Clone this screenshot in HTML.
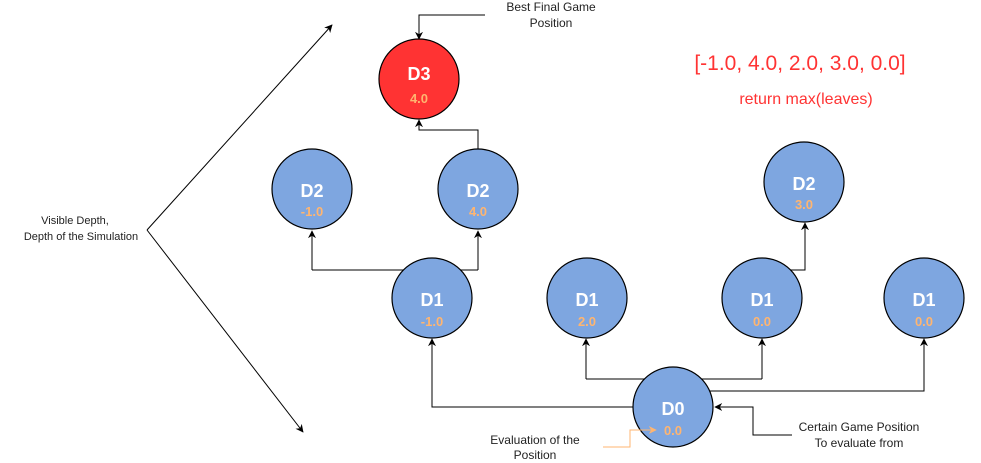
<!DOCTYPE html>
<html><head><style>body{margin:0;background:#fff}svg{display:block}</style></head><body>
<svg width="981" height="463" viewBox="0 0 981 463" xmlns="http://www.w3.org/2000/svg" font-family="Liberation Sans, Arial, sans-serif">
<defs>
<marker id="a" viewBox="0 0 10 10" refX="9" refY="5" markerWidth="8" markerHeight="8" orient="auto"><path d="M0,0L10,5L0,10L3,5z" fill="#000"/></marker>
<marker id="o" viewBox="0 0 10 10" refX="9" refY="5" markerWidth="8" markerHeight="8" orient="auto"><path d="M0,0L10,5L0,10L3,5z" fill="#FFB570"/></marker>
</defs>
<g fill="none" stroke="#000" stroke-width="1">
<path d="M312,270H478" />
<path d="M312,270V231" marker-end="url(#a)"/>
<path d="M478,270V231" marker-end="url(#a)"/>
<path d="M478,150V130H419V120" marker-end="url(#a)"/>
<path d="M485,15H419V39" marker-end="url(#a)"/>
<path d="M634,407H432V339" marker-end="url(#a)"/>
<path d="M586,379H762"/>
<path d="M586,379V339" marker-end="url(#a)"/>
<path d="M762,379V339" marker-end="url(#a)"/>
<path d="M700,391H924V339" marker-end="url(#a)"/>
<path d="M790,270H805V223" marker-end="url(#a)"/>
<path d="M792,435H753V407H715" marker-end="url(#a)"/>
<path d="M147,230L332,25" marker-end="url(#a)"/>
<path d="M147,230L303,432" marker-end="url(#a)"/>
</g>
<g stroke="#000" stroke-width="1.2">
<circle cx="419" cy="79" r="40" fill="#FF3333"/>
<circle cx="312" cy="189" r="40" fill="#7EA6E0"/>
<circle cx="478" cy="189" r="40" fill="#7EA6E0"/>
<circle cx="804" cy="182" r="40" fill="#7EA6E0"/>
<circle cx="432" cy="298" r="40" fill="#7EA6E0"/>
<circle cx="587" cy="298" r="40" fill="#7EA6E0"/>
<circle cx="762" cy="298" r="40" fill="#7EA6E0"/>
<circle cx="924" cy="298" r="40" fill="#7EA6E0"/>
<circle cx="673" cy="407" r="40" fill="#7EA6E0"/>
</g>
<path d="M603,447H630V430H656" fill="none" stroke="#FFB570" marker-end="url(#o)"/>
<g font-weight="bold" text-anchor="middle">
<g fill="#fff" font-size="18">
<text x="419" y="80">D3</text><text x="312" y="197">D2</text><text x="478" y="197">D2</text><text x="804" y="190">D2</text>
<text x="432" y="306">D1</text><text x="587" y="306">D1</text><text x="762" y="306">D1</text><text x="924" y="306">D1</text><text x="673" y="415">D0</text>
</g>
<g fill="#FFB570" font-size="13">
<text x="419" y="103">4.0</text><text x="312" y="216">-1.0</text><text x="478" y="216">4.0</text><text x="804" y="209">3.0</text>
<text x="432" y="326">-1.0</text><text x="587" y="326">2.0</text><text x="762" y="326">0.0</text><text x="924" y="326">0.0</text><text x="673" y="435">0.0</text>
</g>
</g>
<g font-size="12" text-anchor="middle" fill="#222">
<text x="551" y="11">Best Final Game</text><text x="551" y="27">Position</text>
<text x="535" y="444">Evaluation of the</text><text x="535" y="459">Position</text>
<text x="859" y="431">Certain Game Position</text><text x="859" y="447">To evaluate from</text>
</g>
<g font-size="11" text-anchor="middle" fill="#222">
<text x="75" y="224">Visible Depth,</text><text x="81" y="240">Depth of the Simulation</text>
</g>
<text x="800" y="70" font-size="21" text-anchor="middle" fill="#FF3333">[-1.0, 4.0, 2.0, 3.0, 0.0]</text>
<text x="806" y="104" font-size="16" text-anchor="middle" fill="#FF3333">return max(leaves)</text>
</svg>
</body></html>
